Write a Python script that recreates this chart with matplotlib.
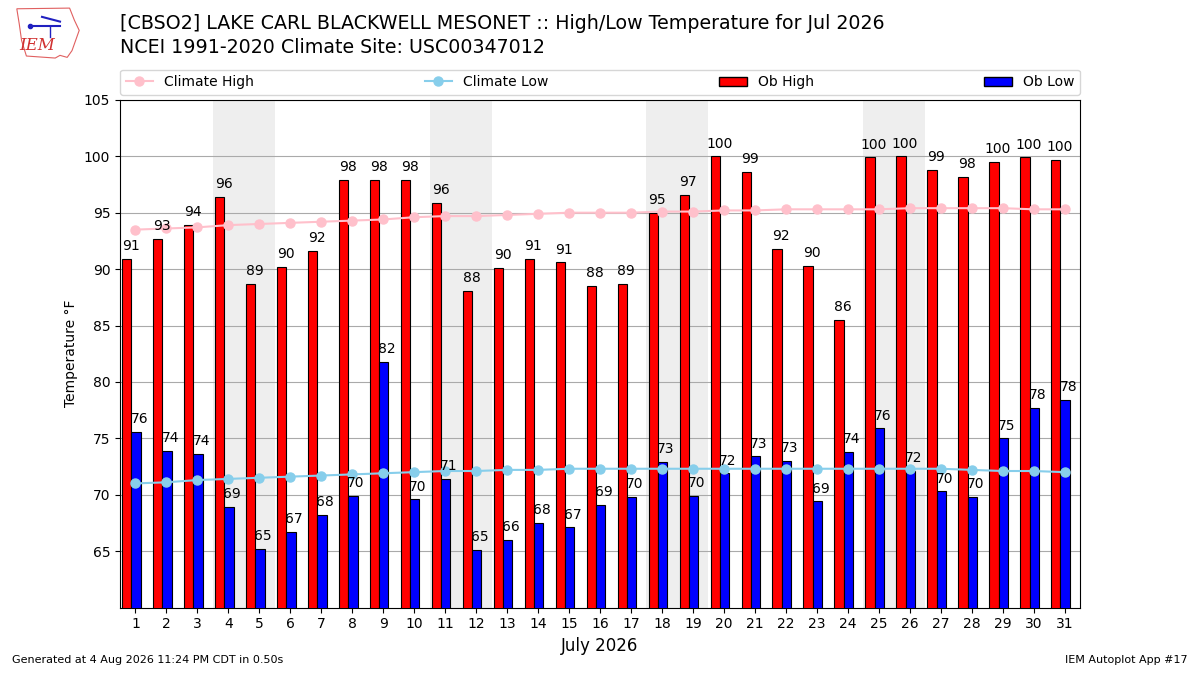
import matplotlib
matplotlib.use("Agg")
import matplotlib.pyplot as plt
from matplotlib.patches import Patch, Polygon
from matplotlib.lines import Line2D

days = list(range(1, 32))
ob_high = [90.9, 92.7, 93.9, 96.4, 88.7, 90.2, 91.6, 97.9, 97.9, 97.9,
           95.9, 88.1, 90.1, 90.9, 90.6, 88.5, 88.7, 95.0, 96.6, 100.0,
           98.6, 91.8, 90.3, 85.5, 99.9, 100.0, 98.8, 98.2, 99.5, 99.9, 99.7]
ob_low = [75.6, 73.9, 73.6, 68.9, 65.2, 66.7, 68.2, 69.9, 81.8, 69.6,
          71.4, 65.1, 66.0, 67.5, 67.1, 69.1, 69.8, 72.9, 69.9, 71.9,
          73.4, 73.0, 69.4, 73.8, 75.9, 72.1, 70.3, 69.8, 75.0, 77.7, 78.4]
clim_high = [93.5, 93.6, 93.7, 93.9, 94.0, 94.1, 94.2, 94.3, 94.4, 94.6,
             94.7, 94.7, 94.8, 94.9, 95.0, 95.0, 95.0, 95.1, 95.1, 95.2,
             95.2, 95.3, 95.3, 95.3, 95.3, 95.4, 95.4, 95.4, 95.4, 95.3, 95.3]
clim_low = [71.0, 71.1, 71.3, 71.4, 71.5, 71.6, 71.7, 71.8, 71.9, 72.0,
            72.1, 72.1, 72.2, 72.2, 72.3, 72.3, 72.3, 72.3, 72.3, 72.3,
            72.3, 72.3, 72.3, 72.3, 72.3, 72.3, 72.3, 72.2, 72.1, 72.1, 72.0]
weekend_starts = [4, 11, 18, 25]
yticks = [65, 70, 75, 80, 85, 90, 95, 100, 105]

title1 = "[CBSO2] LAKE CARL BLACKWELL MESONET :: High/Low Temperature for Jul 2026"
title2 = "NCEI 1991-2020 Climate Site: USC00347012"

fig = plt.figure(figsize=(12, 6.75), dpi=100)
ax = fig.add_axes([0.1, 0.1, 0.8, 0.752])

for d in weekend_starts:
    ax.axvspan(d - 0.5, d + 1.5, color="#eeeeee", zorder=0, lw=0)

ax.bar([d - 0.43 for d in days], ob_high, width=0.3, align="edge",
       color="red", edgecolor="black", linewidth=0.8, zorder=3)
ax.bar([d - 0.13 for d in days], ob_low, width=0.3, align="edge",
       color="blue", edgecolor="black", linewidth=0.8, zorder=3)

ax.plot(days, clim_high, color="pink", marker="o", markersize=6.5, lw=1.5, zorder=4)
ax.plot(days, clim_low, color="skyblue", marker="o", markersize=6.5, lw=1.5, zorder=4)

for d, h, l in zip(days, ob_high, ob_low):
    ax.text(d - 0.15, h + 0.5, f"{h:.0f}", ha="center", va="bottom",
            fontsize=10, zorder=5)
    ax.text(d + 0.12, l + 0.5, f"{l:.0f}", ha="center", va="bottom",
            fontsize=10, zorder=5)

ax.set_xlim(0.5, 31.5)
ax.set_ylim(60, 105)
ax.set_yticks(yticks)
ax.set_xticks(days)
ax.tick_params(labelsize=10)
ax.yaxis.grid(True, color="#aaaaaa", lw=0.8, zorder=1)
ax.set_axisbelow(True)
ax.set_ylabel("Temperature °F", fontsize=10)
ax.set_xlabel("July 2026", fontsize=12)

handles = [
    Line2D([], [], color="pink", marker="o", markersize=6.5, lw=1.5),
    Line2D([], [], color="skyblue", marker="o", markersize=6.5, lw=1.5),
    Patch(facecolor="red", edgecolor="black"),
    Patch(facecolor="blue", edgecolor="black"),
]
ax.legend(handles, ["Climate High", "Climate Low", "Ob High", "Ob Low"],
          loc="lower left", bbox_to_anchor=(0, 1.01, 1, 0.05), mode="expand",
          ncol=4, fontsize=10, borderaxespad=0.0)

fig.text(0.1, 0.965, title1, fontsize=13.7, va="center", ha="left")
fig.text(0.1, 0.93, title2, fontsize=13.7, va="center", ha="left")

# simple IEM logo
iowa = Polygon([[0.014, 0.987], [0.058, 0.988], [0.062, 0.97], [0.066, 0.955],
                [0.063, 0.94], [0.06, 0.925], [0.056, 0.915], [0.05, 0.918],
                [0.046, 0.914], [0.022, 0.917], [0.018, 0.94], [0.016, 0.965]],
               closed=True, fill=False, edgecolor="#e06060",
               lw=0.8, transform=fig.transFigure)
fig.patches.append(iowa)
fig.text(0.031, 0.932, "IEM", color="#d03030", fontsize=12, style="italic",
         family="DejaVu Serif", ha="center", va="center")
fig.add_artist(Line2D([0.025, 0.05], [0.962, 0.962], color="#2020c0", lw=1.5,
                      transform=fig.transFigure))
fig.add_artist(Line2D([0.035, 0.05], [0.975, 0.968], color="#2020c0", lw=1.5,
                      transform=fig.transFigure))
fig.add_artist(Line2D([0.042, 0.042], [0.962, 0.945], color="#2020c0", lw=1.0,
                      transform=fig.transFigure))
fig.add_artist(Line2D([0.025], [0.962], color="#2020c0", marker="o",
                      markersize=3, transform=fig.transFigure))

fig.text(0.01, 0.015, "Generated at 4 Aug 2026 11:24 PM CDT in 0.50s", fontsize=8,
         ha="left", va="bottom")
fig.text(0.99, 0.015, "IEM Autoplot App #17", fontsize=8, ha="right", va="bottom")

fig.savefig("out.png", dpi=100)
